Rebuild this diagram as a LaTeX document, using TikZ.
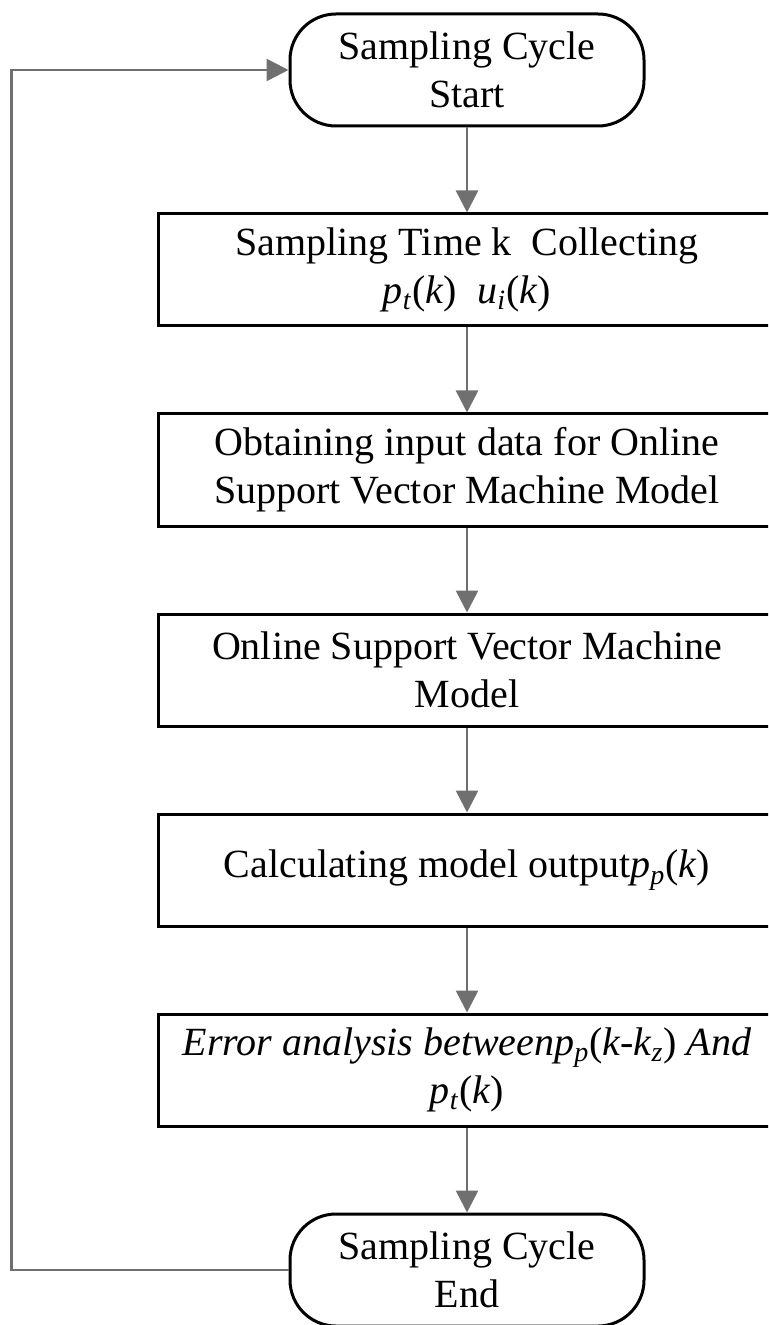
\documentclass[tikz,border=0pt]{standalone}
\usepackage{fontspec}
\setmainfont{Liberation Serif}
\usetikzlibrary{positioning}
\usetikzlibrary{arrows.meta}
\definecolor{flowgray}{RGB}{112,112,112}
\newcommand{\sv}[2]{\textit{#1}\textsubscript{\textit{#2}}}
\tikzset{
	flownode/.style = {
		align=center,
		inner sep=0pt,
		text centered,
		font=\fontsize{20pt}{24pt}\selectfont,
		draw=black,
		fill=white,
		line width=1.5pt,
		minimum height=56pt
	},
	node_proc/.style = {
		flownode,
		rectangle,
		minimum width=309pt
	},
	node_term/.style = {
		flownode,
		rectangle,
		rounded corners=23pt,
		minimum width=177pt
	},
	flow_arrow/.style = {
		-{Triangle[length=11pt,width=11pt]},
		flowgray,
		line width=1.3pt
	},
}

\begin{document}
\begin{tikzpicture}[node distance=42.5pt]
\useasboundingbox (0,0) rectangle (384pt,-662.5pt);
\clip (0,0) rectangle (384pt,-662.5pt);
\node [node_term] (start) at (233.5pt,-35pt) {Sampling Cycle\\Start};
\node [node_proc, below=of start] (collect) {Sampling Time k\ \ Collecting\\\sv{p}{t}(\textit{k})\ \ \sv{u}{i}(\textit{k})};
\node [node_proc, below=of collect] (input) {Obtaining input data for Online\\Support Vector Machine Model};
\node [node_proc, below=of input] (model) {Online Support Vector Machine\\Model};
\node [node_proc, below=of model] (output) {Calculating model output\sv{p}{p}(\textit{k})};
\node [node_proc, below=of output] (error) {\textit{Error analysis between\sv{p}{p}\textup{(}k-\sv{k}{z}\textup{)} And}\\\sv{p}{t}(\textit{k})};
\node [node_term, below=of error] (end) {Sampling Cycle\\End};
\draw [flow_arrow] (start) -- (collect);
\draw [flow_arrow] (collect) -- (input);
\draw [flow_arrow] (input) -- (model);
\draw [flow_arrow] (model) -- (output);
\draw [flow_arrow] (output) -- (error);
\draw [flow_arrow] (error) -- (end);
\draw [flow_arrow] (end.west) -- ++(-138.5pt,0) |- (start.west);
\end{tikzpicture}
\end{document}
